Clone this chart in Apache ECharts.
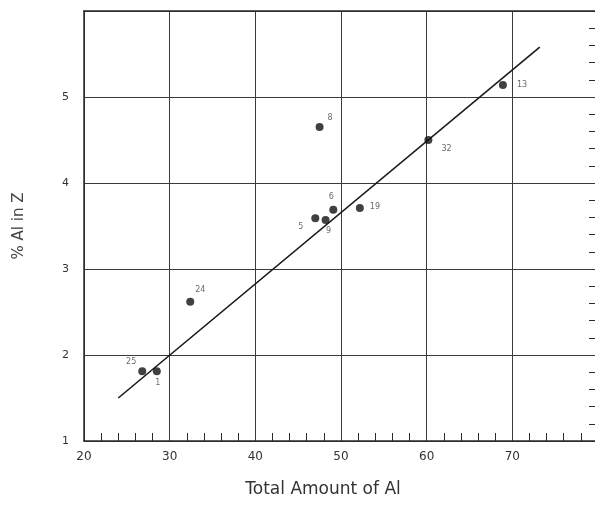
<!DOCTYPE html>
<html>
<head>
<meta charset="utf-8">
<script src="https://cdn.jsdelivr.net/npm/echarts@6/dist/echarts.min.js"></script>
<style>
html,body{margin:0;padding:0;background:#fff;overflow:hidden;}
#chart{width:595px;height:523px;}
</style>
</head>
<body>
<div id="chart"></div>
<script>
// Data
var sampleIds = ['25', '1', '24', '5', '9', '6', '19', '8', '32', '13'];
var totalAl   = [26.8, 28.5, 32.4, 47.0, 48.2, 49.1, 52.2, 47.5, 60.2, 68.9];
var pctAlInZ  = [1.81, 1.81, 2.62, 3.59, 3.57, 3.69, 3.71, 4.65, 4.50, 5.14];
var fitLineX  = [24.0, 73.2];
var fitLineY  = [1.50, 5.58];
var xTickLabels = ['20', '30', '40', '50', '60', '70'];
var yTickLabels = ['1', '2', '3', '4', '5'];

// label placement (style only)
var labelStyles = {
  '25': {position: 'left', offset: [2, -9]},
  '1':  {position: 'bottom', offset: [1, 0]},
  '24': {position: 'top', offset: [10, 0]},
  '5':  {position: 'left', offset: [-4, 9]},
  '9':  {position: 'bottom', offset: [3, -1]},
  '6':  {position: 'top', offset: [-2, -1]},
  '19': {position: 'right', offset: [2, -1]},
  '8':  {position: 'right', offset: [0, -9]},
  '32': {position: 'right', offset: [5, 9]},
  '13': {position: 'right', offset: [6, 0]}
};

var points = sampleIds.map(function (id, i) {
  return {name: id, value: [totalAl[i], pctAlInZ[i]], label: labelStyles[id]};
});
var fitLine = fitLineX.map(function (x, i) { return [x, fitLineY[i]]; });

var lineCol = '#2a2a2a';
var chart = echarts.init(document.getElementById('chart'));
chart.setOption({
  backgroundColor: '#ffffff',
  animation: false,
  grid: {left: 84, right: -3, top: 11, bottom: 82, containLabel: false, outerBoundsMode: 'none'},
  xAxis: [{
    type: 'value', min: 20, max: 80, interval: 10, position: 'bottom',
    name: 'Total Amount of Al', nameLocation: 'middle', nameGap: 40,
    nameTextStyle: {fontFamily: 'DejaVu Sans', fontSize: 17, color: '#333', fontWeight: 'normal', padding: [0, 36, 0, 0]},
    axisLine: {show: true, lineStyle: {color: lineCol, width: 1.5}},
    axisTick: {show: false, inside: true},
    minorTick: {show: true, splitNumber: 5, length: 8, lineStyle: {color: lineCol, width: 1}},
    axisLabel: {
      margin: 10, fontFamily: 'DejaVu Sans', fontSize: 12, color: '#333',
      formatter: function (v) { var s = String(v); return xTickLabels.indexOf(s) >= 0 ? s : ''; }
    },
    splitLine: {show: true, lineStyle: {color: '#3a3a3a', width: 1}}
  }, {
    type: 'value', min: 20, max: 80, interval: 10, position: 'top',
    axisLine: {show: true, lineStyle: {color: lineCol, width: 1.5}},
    axisTick: {show: false}, axisLabel: {show: false}, splitLine: {show: false}
  }],
  yAxis: [{
    type: 'value', min: 1, max: 6, interval: 1, position: 'left',
    name: '% Al in Z', nameLocation: 'middle', nameGap: 57, nameRotate: 90,
    nameTextStyle: {fontFamily: 'DejaVu Sans', fontSize: 15, color: '#444', fontWeight: 'normal'},
    axisLine: {show: true, lineStyle: {color: lineCol, width: 1.5}},
    axisTick: {show: false},
    axisLabel: {
      margin: 15, fontFamily: 'DejaVu Sans', fontSize: 11, color: '#333',
      formatter: function (v) { var s = String(v); return yTickLabels.indexOf(s) >= 0 ? s : ''; }
    },
    splitLine: {show: true, lineStyle: {color: '#3a3a3a', width: 1}}
  }, {
    type: 'value', min: 1, max: 6, interval: 1, position: 'right',
    axisLine: {show: true, lineStyle: {color: lineCol, width: 1.5}},
    axisTick: {show: false, inside: true},
    minorTick: {show: true, splitNumber: 5, length: 9, lineStyle: {color: lineCol, width: 1}},
    axisLabel: {show: false}, splitLine: {show: false}
  }],
  series: [{
    type: 'line', data: fitLine, symbol: 'none', silent: true,
    lineStyle: {color: '#1a1a1a', width: 1.6}, z: 3
  }, {
    type: 'scatter', data: points, symbol: 'circle', symbolSize: 8,
    itemStyle: {color: '#111'}, z: 4,
    label: {
      show: true, formatter: '{b}', fontFamily: 'DejaVu Sans', fontSize: 8,
      color: '#444', distance: 4
    }
  }]
});
</script>
</body>
</html>
